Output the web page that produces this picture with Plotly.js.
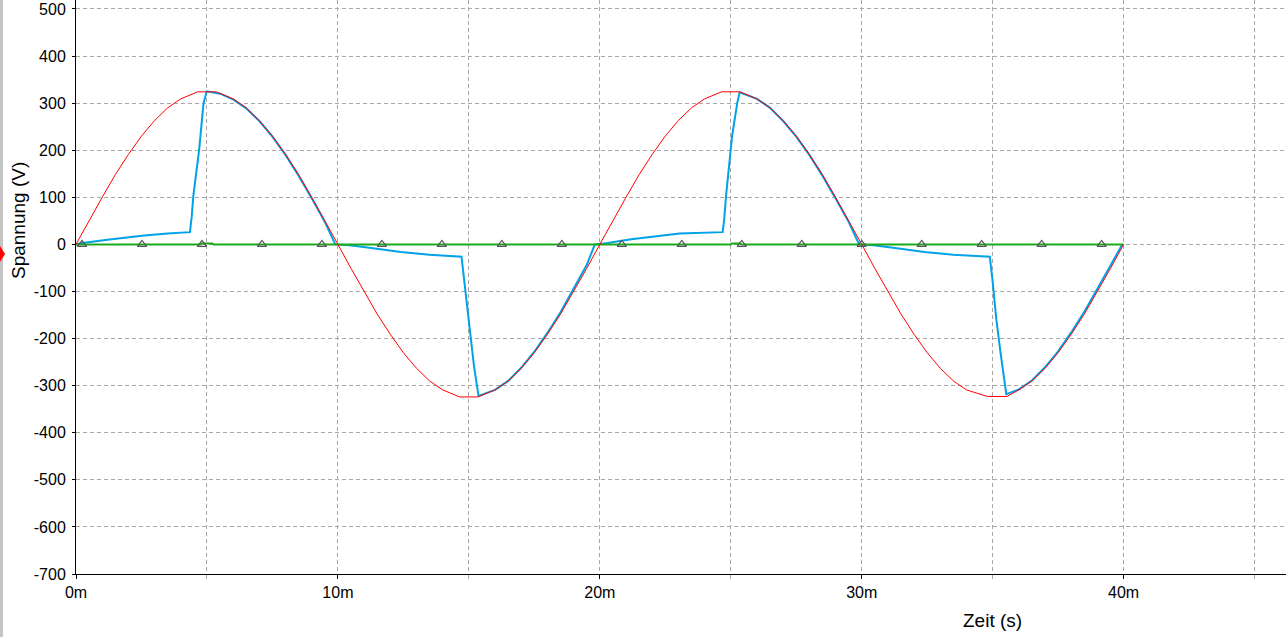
<!DOCTYPE html>
<html>
<head>
<meta charset="utf-8">
<script src="https://cdn.plot.ly/plotly-3.0.1.min.js"></script>
<style>html,body{margin:0;padding:0;background:#fff;}#chart{width:1286px;height:637px;}</style>
</head>
<body>
<div id="chart"></div>
<script>
// Time (ms) and voltage (V) values
const redT = [0,0.5,1,1.5,2,2.5,3,3.5,4,4.65,5.35,6,6.5,7,7.5,8,8.5,9,9.5,10,10.5,11,11.5,12,12.5,13,13.5,14,14.65,15.35,16,16.5,17,17.5,18,18.5,19,19.5,
              20,20.5,21,21.5,22,22.5,23,23.5,24,24.65,25.35,26,26.5,27,27.5,28,28.5,29,29.5,30,30.5,31,31.5,32,32.5,33,33.5,34,34.8,35.54,36,36.5,37,37.5,38,38.5,39,39.5,40];
const redV = [0,51,100,148,191,230,263,290,309,324,324,309,290,263,230,191,148,100,51,0,-51,-100,-148,-191,-230,-263,-290,-309,-324,-324,-309,-290,-263,-230,-191,-148,-100,-51,
              0,51,100,148,191,230,263,290,309,324,324,309,290,263,230,191,148,100,51,0,-51,-100,-148,-191,-230,-263,-290,-309,-323,-323,-309,-290,-263,-230,-191,-148,-100,-51,0];

const blueT = [0,0.25,1.2,2.6,3.5,4.35,4.42,4.48,4.7,4.87,4.99,5.5,6,6.5,7,7.5,8,8.5,9,9.5,9.9,
               10.45,11.2,12.4,13.5,14.72,14.87,15.06,15.2,15.37,16,16.5,17,17.5,18,18.5,19,19.5,19.81,
               20.3,21.2,22.2,23.05,24.69,24.75,24.82,24.92,25.05,25.25,25.34,26,26.5,27,27.5,28,28.5,29,29.5,29.9,
               30.45,31.2,32.4,33.5,34.89,34.99,35.14,35.3,35.42,35.52,36,36.5,37,37.5,38,38.5,39,39.5,39.95];
const blueV = [0,3,10,19,23,26,60,103,200,300,325,320,308,289,262,229,190,146,98,48,0,
               -2,-7,-16,-22,-26,-100,-200,-260,-322,-309,-290,-262,-228,-188,-144,-95,-44,0,
               3,11,18,23,26,53,103,159,230,301,323,309,290,262,229,190,146,98,48,0,
               -2,-7,-16,-22,-26,-74,-159,-230,-280,-318,-308,-289,-261,-227,-187,-143,-94,-44,0];

const greenT = [0,4.75,4.8,5.2,5.25,25.0,25.05,25.35,25.4,40];
const greenV = [0,0,2,2,0,0,2,2,0,0];

const markT = [0.23,2.52,4.81,7.10,9.39,11.68,13.97,16.26,18.55,20.84,23.13,25.42,27.71,30.0,32.29,34.58,36.87,39.16];
const markV = [0,0,0,0,0,0,0,0,0,0,0,0,0,0,0,0,0,0];

const xTickVals = [0,10,20,30,40];
const xTickText = ['0m','10m','20m','30m','40m'];
const yTickVals = [-700,-600,-500,-400,-300,-200,-100,0,100,200,300,400,500];
const yTickText = ['-700','-600','-500','-400','-300','-200','-100','0','100','200','300','400','500'];

const W = 1210, H = 574, L = 76;
const px = v => (v - L) / W;
const py = v => (H - v) / H;

const traces = [
  {x: blueT, y: blueV, type: 'scatter', mode: 'lines', line: {color: '#00a2e8', width: 2}, hoverinfo: 'skip'},
  {x: greenT, y: greenV, type: 'scatter', mode: 'lines', line: {color: '#1aaa1a', width: 2}, hoverinfo: 'skip'},
  {x: redT, y: redV, type: 'scatter', mode: 'lines', line: {color: '#ff0000', width: 1}, hoverinfo: 'skip'},
  {x: markT, y: markV, type: 'scatter', mode: 'markers',
   marker: {symbol: 'triangle-up-open', size: 8, color: '#555555', line: {color: '#555555', width: 1.2}}, hoverinfo: 'skip'}
];

const font = {family: '"Liberation Sans", Arial, sans-serif', size: 16, color: '#000'};

const layout = {
  width: 1286, height: 637,
  margin: {l: 76, r: 0, t: 0, b: 63, pad: 0},
  paper_bgcolor: '#fff', plot_bgcolor: '#fff',
  showlegend: false,
  font: font,
  xaxis: {
    range: [0, 46.2], autorange: false,
    tickmode: 'array', tickvals: xTickVals, ticktext: xTickText,
    ticks: 'outside', ticklen: 4, tickcolor: '#000', tickwidth: 1,
    showline: true, linecolor: '#000', linewidth: 1,
    showgrid: true, gridcolor: '#a8a8a8', gridwidth: 1, griddash: '4px,3px',
    zeroline: false,
    tickfont: font,
    minor: {dtick: 5, tick0: 0, showgrid: true, gridcolor: '#a8a8a8', gridwidth: 1, griddash: '4px,3px',
            ticks: 'outside', ticklen: 4, tickcolor: '#a8a8a8'}
  },
  yaxis: {
    range: [-700, 519], autorange: false,
    tickmode: 'array', tickvals: yTickVals, ticktext: yTickText,
    ticks: 'outside', ticklen: 3, tickcolor: '#000', tickwidth: 1,
    ticklabelstandoff: 3,
    showline: true, linecolor: '#000', linewidth: 1,
    showgrid: true, gridcolor: '#a8a8a8', gridwidth: 1, griddash: '4px,3px',
    zeroline: false,
    tickfont: font
  },
  annotations: [
    {text: 'Zeit (s)', xref: 'x', yref: 'paper', x: 35, y: py(620), xanchor: 'center', yanchor: 'middle',
     showarrow: false, font: {family: font.family, size: 19, color: '#000'}},
    {text: 'Spannung (V)', xref: 'paper', yref: 'paper', x: px(19), y: py(221), xanchor: 'center', yanchor: 'middle',
     textangle: -90, showarrow: false, font: {family: font.family, size: 19, color: '#000'}}
  ],
  shapes: [
    {type: 'rect', xref: 'paper', yref: 'paper', x0: px(0), x1: px(3), y0: py(637), y1: py(0),
     fillcolor: '#c4c4c4', line: {width: 0}},
    {type: 'path', xref: 'paper', yref: 'paper',
     path: 'M ' + px(0) + ',' + py(246) + ' L ' + px(5) + ',' + py(254) + ' L ' + px(0) + ',' + py(262) + ' Z',
     fillcolor: '#ff0000', line: {width: 0}}
  ]
};

Plotly.newPlot('chart', traces, layout, {staticPlot: true, displayModeBar: false});
</script>
</body>
</html>
